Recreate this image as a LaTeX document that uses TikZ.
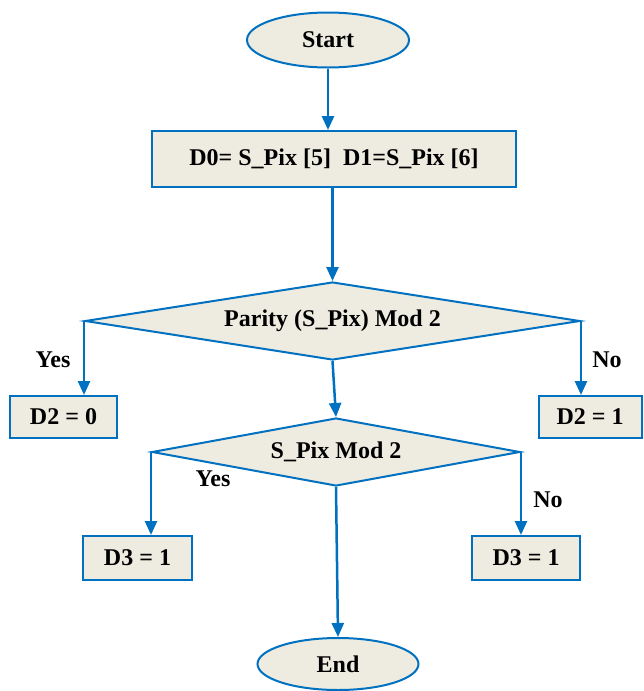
\documentclass[tikz,border=0pt]{standalone}
\usepackage{fontspec}
\setmainfont{Liberation Serif}
\usetikzlibrary{shapes.geometric,arrows.meta}
\definecolor{fcblue}{RGB}{0,112,192}
\definecolor{fcfill}{RGB}{238,236,225}
\tikzset{
  base/.style={draw=fcblue, fill=fcfill, line width=2pt, font=\fontsize{24}{28}\selectfont\bfseries, inner sep=0pt},
  term/.style={base, ellipse},
  procbox/.style={base, rectangle},
  decide/.style={base, diamond},
  flow/.style={draw=fcblue, line width=2.5pt, -{Triangle[length=14pt,width=12pt]}},
  lbl/.style={font=\fontsize{24}{28}\selectfont\bfseries, inner sep=0pt},
}
\begin{document}
\begin{tikzpicture}[x=1pt,y=-1pt]
\useasboundingbox (0,0) rectangle (643,691);
\node[term, minimum width=162pt, minimum height=55pt] (start) at (328,40) {Start};
\node[procbox, minimum width=364pt, minimum height=56pt] (init) at (334,159) {D0= S\_Pix [5]\ \ D1=S\_Pix [6]};
\node[decide, aspect=6.35, minimum width=495pt, minimum height=78pt] (d1) at (332.5,321) {Parity (S\_Pix) Mod 2};
\node[procbox, minimum width=107pt, minimum height=42pt] (b20) at (63.5,417) {D2 = 0};
\node[procbox, minimum width=103pt, minimum height=42pt] (b21) at (590,417) {D2 = 1};
\node[decide, aspect=5.4, minimum width=368pt, minimum height=68pt] (d2) at (336,452) {S\_Pix Mod 2};
\node[procbox, minimum width=109pt, minimum height=44pt] (b31) at (137.5,558) {D3 = 1};
\node[procbox, minimum width=108pt, minimum height=44pt] (b32) at (526,558) {D3 = 1};
\node[term, minimum width=161pt, minimum height=52pt] (end) at (338,664) {End};
\draw[flow] (start.south) -- (start.south |- init.north);
\draw[flow] (init.south -| d1.north) -- (d1.north);
\draw[flow] (d1.west) -- (d1.west |- b20.north);
\draw[flow] (d1.east) -- (d1.east |- b21.north);
\draw[flow] (d1.south) -- (d2.north);
\draw[flow] (d2.west) -- (d2.west |- b31.north);
\draw[flow] (d2.east) -- (d2.east |- b32.north);
\draw[flow] (d2.south) -- (end.north);
\node[lbl] (y1) at (53,360) {Yes};
\node[lbl] (n1) at (607,360) {No};
\node[lbl] (y2) at (213,479) {Yes};
\node[lbl] (n2) at (548,500) {No};
\end{tikzpicture}
\end{document}
